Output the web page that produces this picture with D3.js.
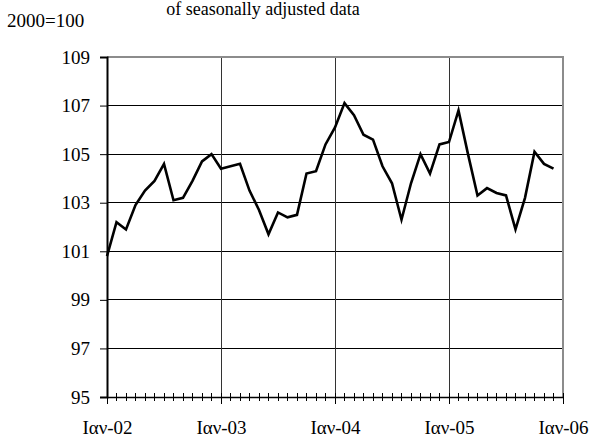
<!DOCTYPE html>
<html><head><meta charset="utf-8">
<script src="https://cdn.jsdelivr.net/npm/d3@7"></script>
<style>
html,body{margin:0;padding:0;background:#fff;}
svg{display:block;}
</style></head>
<body>
<svg id="chart" width="594" height="444"></svg>
<script>
// Data: monthly index, Jan-02 .. Dec-05 (2000=100)
const values2002 = [100.8, 102.2, 101.9, 102.9, 103.5, 103.9, 104.6, 103.1, 103.2, 103.9, 104.7, 105.0];
const values2003 = [104.4, 104.5, 104.6, 103.5, 102.7, 101.7, 102.6, 102.4, 102.5, 104.2, 104.3, 105.4];
const values2004 = [106.1, 107.1, 106.6, 105.8, 105.6, 104.5, 103.8, 102.3, 103.8, 105.0, 104.2, 105.4];
const values2005 = [105.5, 106.8, 105.0, 103.3, 103.6, 103.4, 103.3, 101.9, 103.2, 105.1, 104.6, 104.4];
const xTickLabels = ["Ιαν-02", "Ιαν-03", "Ιαν-04", "Ιαν-05", "Ιαν-06"];
const yTicks = [95, 97, 99, 101, 103, 105, 107, 109];
const titleText = "of seasonally adjusted  data";
const unitText = "2000=100";

const series = [].concat(values2002, values2003, values2004, values2005);

(function () {
const FONT = "Liberation Serif";
const svg = d3.select("#chart");
const pL = 107, pR = 563, pT = 57, pB = 397;
const x = d3.scaleLinear().domain([0, 48]).range([pL, pR]);
const y = d3.scaleLinear().domain([95, 109]).range([pB, pT]);
const fs = 19;

// title
svg.append("text").attr("x", 263).attr("y", 15).attr("text-anchor", "middle")
  .attr("font-family", FONT).attr("font-size", 18).attr("fill", "#000").text(titleText);
svg.append("text").attr("x", 7).attr("y", 27).attr("font-family", FONT)
  .attr("font-size", fs).attr("fill", "#000").text(unitText);

// horizontal gridlines
svg.append("g").selectAll("line").data(yTicks.filter(d => d > 95 && d < 109)).join("line")
  .attr("x1", pL).attr("x2", pR).attr("y1", d => y(d)).attr("y2", d => y(d))
  .attr("stroke", "#000").attr("stroke-width", 1).attr("shape-rendering", "crispEdges");
// vertical gridlines
svg.append("g").selectAll("line").data([12, 24, 36]).join("line")
  .attr("x1", d => x(d)).attr("x2", d => x(d)).attr("y1", pT).attr("y2", pB)
  .attr("stroke", "#333").attr("stroke-width", 1).attr("shape-rendering", "crispEdges");

// plot border top/right grey
svg.append("path").attr("d", `M${pL},${pT}H${pR}V${pB}`)
  .attr("fill", "none").attr("stroke", "#8c8c8c").attr("stroke-width", 2);

// y axis
const yAxis = d3.axisLeft(y).tickValues(yTicks).tickSize(7).tickPadding(10).tickFormat(d3.format("d"));
const gy = svg.append("g").attr("transform", `translate(${pL},0)`).call(yAxis);
gy.attr("font-family", FONT).attr("font-size", fs);
gy.select(".domain").attr("stroke", "#000").attr("stroke-width", 2);
gy.selectAll(".tick line").attr("stroke", "#000");
gy.selectAll("text").attr("fill", "#000");

// x axis minor ticks (cross)
const months = d3.range(0, 49);
svg.append("g").selectAll("line").data(months).join("line")
  .attr("x1", d => x(d)).attr("x2", d => x(d))
  .attr("y1", pB - 4).attr("y2", d => d % 12 === 0 ? pB + 7 : pB + 4)
  .attr("stroke", "#000").attr("stroke-width", 1).attr("shape-rendering", "crispEdges");
const xAxis = d3.axisBottom(x).tickValues([0, 12, 24, 36, 48]).tickSize(0).tickPadding(24)
  .tickFormat((d, i) => xTickLabels[i]);
const gx = svg.append("g").attr("transform", `translate(0,${pB})`).call(xAxis);
gx.attr("font-family", FONT).attr("font-size", fs);
gx.select(".domain").attr("stroke", "#000").attr("stroke-width", 1.5);
gx.selectAll("text").attr("fill", "#000");

// line
const line = d3.line().x((d, i) => x(i)).y(d => y(d));
svg.append("path").datum(series).attr("d", line)
  .attr("fill", "none").attr("stroke", "#000").attr("stroke-width", 2.6).attr("stroke-linejoin", "miter");
})();
</script>
</body></html>
